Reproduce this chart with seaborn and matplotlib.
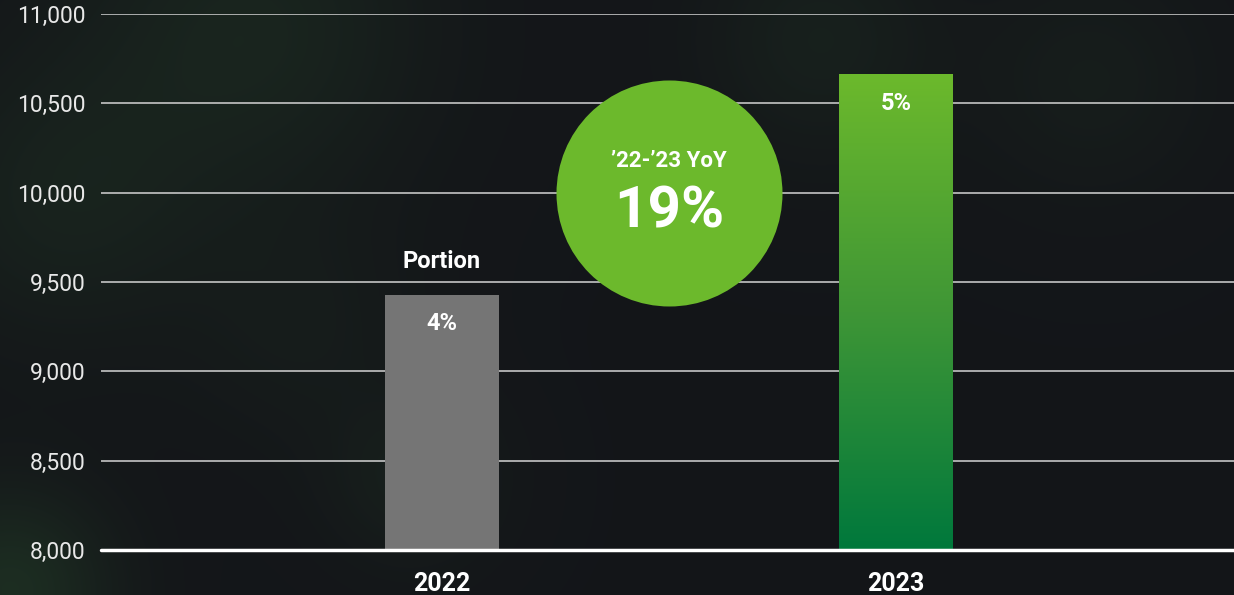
import numpy as np
import pandas as pd
import matplotlib
matplotlib.use("Agg")
import matplotlib.pyplot as plt
import seaborn as sns
from matplotlib.colors import LinearSegmentedColormap
from matplotlib.ticker import FuncFormatter

# data
years = ["2022", "2023"]
revenue = [9430, 10660]
portion_labels = ["4%", "5%"]
yoy_title = "\u201922-\u201923 YoY"
yoy_value = "19%"
y_ticks = [8000, 8500, 9000, 9500, 10000, 10500, 11000]

df = pd.DataFrame({"year": years, "revenue": revenue})

sns.set_theme(style="dark")
plt.rcParams["font.family"] = ["Roboto", "DejaVu Sans"]

W, H = 1234, 595
fig = plt.figure(figsize=(W / 100, H / 100), dpi=100)

# dark background with soft green glows (decoration only)
bg = fig.add_axes([0, 0, 1, 1], zorder=-10)
yy, xx = np.mgrid[0:H, 0:W]
base = np.array([0.078, 0.086, 0.098])
glow = np.array([0.12, 0.20, 0.14])
blobs = [(10, 590, 70, 0.8), (250, 30, 120, 0.5), (60, 200, 100, 0.4),
         (820, 40, 80, 0.35), (1090, 80, 80, 0.25), (410, 480, 60, 0.3),
         (300, 330, 80, 0.2)]
glow_map = np.zeros((H, W))
for cx, cy, r, a in blobs:
    glow_map += a * np.exp(-((xx - cx) ** 2 + (yy - cy) ** 2) / (2 * r ** 2))
glow_map = np.clip(glow_map, 0, 1)
bg.imshow(base + glow_map[..., None] * (glow - base), extent=[0, W, H, 0], aspect="auto")
bg.axis("off")

ax = fig.add_axes([101 / W, 45 / H, 1133 / W, 536 / H])
ax.set_facecolor("none")

sns.barplot(data=df, x="year", y="revenue", hue="year", palette=["#757575", "#6cb92c"],
            legend=False, width=0.251, saturation=1, linewidth=0, ax=ax, zorder=3)

# gradient fill for the 2023 bar
green = LinearSegmentedColormap.from_list("grn", ["#00783c", "#3f9636", "#6cb92c"])
bar23 = ax.patches[1]
x0, bw = bar23.get_x(), bar23.get_width()
bar23.set_facecolor("none")
ax.imshow(np.linspace(0, 1, 256)[:, None], extent=[x0, x0 + bw, y_ticks[0], bar23.get_height()],
          origin="lower", cmap=green, aspect="auto", zorder=3)

# YoY bubble
ax.scatter([0.5], [10000], s=(226 * 0.72) ** 2, color="#6cb92c", linewidths=0, zorder=6)
ax.annotate(yoy_title, (0.5, 10000), xytext=(0, 23), textcoords="offset points",
            ha="center", va="center", color="white", fontsize=16, fontweight="bold", zorder=7)
ax.annotate(yoy_value, (0.5, 10000), xytext=(0, -14), textcoords="offset points",
            ha="center", va="center", color="white", fontsize=42, fontweight="bold", zorder=7)

# bar labels
ax.annotate("Portion", (0, revenue[0]), xytext=(0, 24), textcoords="offset points",
            ha="center", va="center", color="white", fontsize=17, fontweight="bold")
for i, (val, lab) in enumerate(zip(revenue, portion_labels)):
    ax.annotate(lab, (i, val), xytext=(0, -21), textcoords="offset points",
                ha="center", va="center", color="white", fontsize=17, fontweight="bold", zorder=7)

ax.set_xlim(-0.751, 1.744)
ax.set_ylim(8000, 11000)
ax.set_yticks(y_ticks)
ax.yaxis.set_major_formatter(FuncFormatter(lambda v, p: f"{v:,.0f}"))
ax.grid(axis="y", color="#d4d4d4", linewidth=1.1)
ax.grid(axis="x", visible=False)
ax.set_axisbelow(True)
ax.axhline(8000, color="white", linewidth=2.5, zorder=5, clip_on=False)
for s in ax.spines.values():
    s.set_visible(False)
ax.tick_params(axis="y", length=0, pad=11, labelsize=16.5, labelcolor="#e8e8e8")
ax.tick_params(axis="x", length=0, pad=16, labelsize=18, labelcolor="white")
for t in ax.get_xticklabels():
    t.set_fontweight("bold")
ax.set_xlabel("")
ax.set_ylabel("")

fig.savefig("out.png", dpi=100)
